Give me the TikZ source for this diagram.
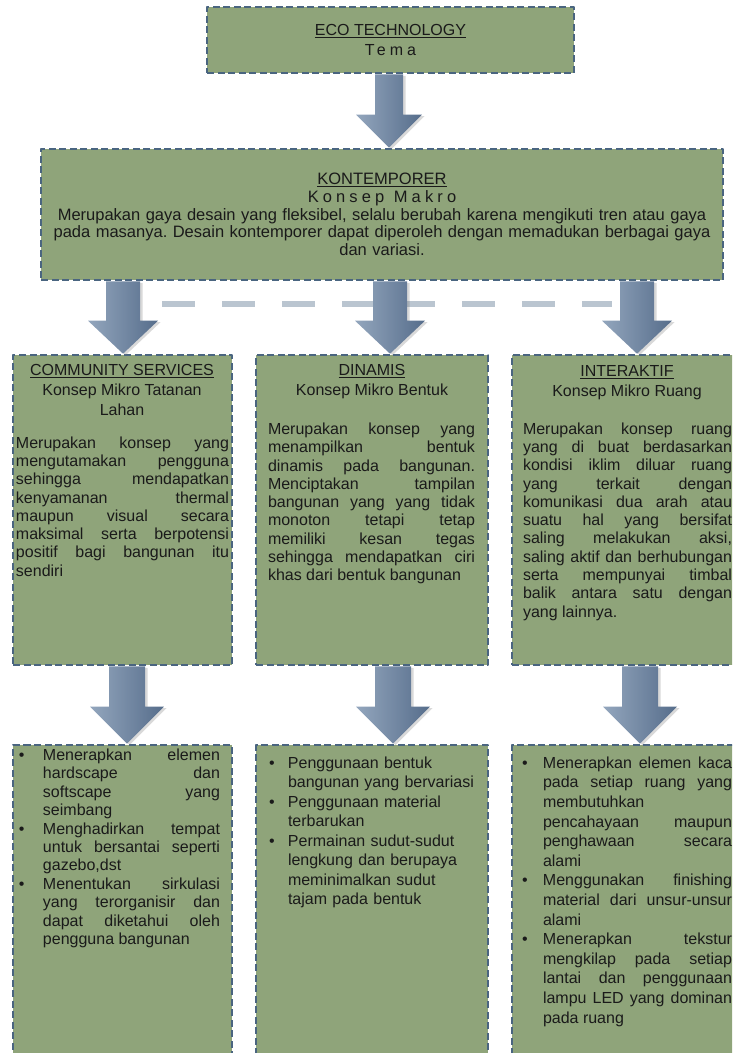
\documentclass[tikz,border=0pt]{standalone}
\usepackage{fontspec}
\setmainfont{Liberation Sans}
\newfontfamily\spacedfont[LetterSpace=25]{Liberation Sans}
\usetikzlibrary{calc,shadows}
\definecolor{boxgreen}{HTML}{8FA47A}
\definecolor{boxedge}{HTML}{4A6580}
\definecolor{arrowlight}{HTML}{93A6BD}
\definecolor{arrowmid}{HTML}{6F87A4}
\definecolor{arrowdark}{HTML}{566D8B}
\definecolor{dashgray}{HTML}{BAC5D0}
\definecolor{inktext}{HTML}{1A1A1A}
\hbadness=10000
\hyphenpenalty=10000
\exhyphenpenalty=10000
\frenchspacing
\tikzset{
	konsep/.style={draw=boxedge,fill=boxgreen,line width=2.6pt,dash pattern=on 7pt off 3.5pt,inner sep=0pt},
	arrowshade/.style={left color=arrowlight,middle color=arrowmid,right color=arrowdark,
		drop shadow={shadow xshift=2.5pt,shadow yshift=-1.5pt,opacity=.3}},
	judul/.style={text=inktext,align=center,font=\fontsize{16}{20}\selectfont,inner sep=0pt},
	isi/.style={text=inktext,align=justify,font=\fontsize{16}{18.3}\selectfont,inner sep=0pt},
	butir/.style={text=inktext,align=left,font=\fontsize{16}{19.5}\selectfont,inner sep=0pt}
}
% x, from, to, shaft half width, head half width, head height
\newcommand{\blockarrow}[6]{%
	\path[arrowshade] let \p1=(#2.south), \p2=(#3.north) in
	({(#1-#4)*1pt},\y1) -- ({(#1+#4)*1pt},\y1) -- ({(#1+#4)*1pt},\y2+#6pt) -- ({(#1+#5)*1pt},\y2+#6pt)
	-- ({#1*1pt},\y2) -- ({(#1-#5)*1pt},\y2+#6pt) -- ({(#1-#4)*1pt},\y2+#6pt) -- cycle;}
\newcommand{\poin}[2][21pt]{\par\noindent\hangindent=#1\hangafter=1\makebox[#1][l]{\textbullet}#2\par}
\begin{document}
\begin{tikzpicture}[x=1pt,y=-1pt,line join=round]
	\clip (0,0) rectangle (732,1053);
	% tema dan konsep makro
	\node[konsep,judul,minimum width=367pt,minimum height=66pt] (tema) at (390.5,40)
		{\underline{ECO TECHNOLOGY}\\{\spacedfont Tema}};
	\node[konsep,judul,minimum width=682pt,minimum height=131pt,text width=670pt,
		font=\fontsize{16.5}{17.8}\selectfont] (makro) at (382,214.5)
		{\underline{KONTEMPORER}\\{\spacedfont Konsep\hspace{4pt} Makro}\\
		Merupakan gaya desain yang fleksibel, selalu berubah karena mengikuti tren atau gaya\\
		pada masanya. Desain kontemporer dapat diperoleh dengan memadukan berbagai gaya\\
		dan variasi.};
	% konsep mikro
	\node[konsep,minimum width=219pt,minimum height=310pt] (community) at (122.5,510) {};
	\node[konsep,minimum width=232pt,minimum height=310pt] (dinamis) at (372,510) {};
	\node[konsep,minimum width=232pt,minimum height=310pt] (interaktif) at (628,510) {};
	\node[konsep,minimum width=219pt,minimum height=325pt] (communitybawah) at (122.5,907.5) {};
	\node[konsep,minimum width=232pt,minimum height=325pt] (dinamisbawah) at (372,907.5) {};
	\node[konsep,minimum width=232pt,minimum height=325pt] (interaktifbawah) at (628,907.5) {};
	\node[judul] (communityjudul) at (122,390) {\underline{COMMUNITY SERVICES}\\Konsep Mikro Tatanan\\Lahan};
	\node[judul] (dinamisjudul) at (372,382) {\underline{DINAMIS}\\Konsep Mikro Bentuk};
	\node[judul] (interaktifjudul) at (627,382.5) {\underline{INTERAKTIF}\\Konsep Mikro Ruang};
	\node[isi,text width=213pt] (communityisi) at (122.5,506.5) {Merupakan konsep yang\linebreak
		mengutamakan pengguna\linebreak sehingga mendapatkan\linebreak kenyamanan thermal\linebreak
		maupun visual secara\linebreak maksimal serta berpotensi\linebreak positif bagi bangunan itu\linebreak sendiri};
	\node[isi,text width=207pt] (dinamisisi) at (371.5,503.5) {Merupakan konsep yang\linebreak
		menampilkan bentuk\linebreak dinamis pada bangunan.\linebreak Menciptakan tampilan\linebreak
		bangunan yang yang tidak\linebreak monoton tetapi tetap\linebreak memiliki kesan tegas\linebreak
		sehingga mendapatkan ciri\linebreak khas dari bentuk bangunan};
	\node[isi,text width=209pt] (interaktifisi) at (627.5,521.5) {Merupakan konsep ruang\linebreak
		yang di buat berdasarkan\linebreak kondisi iklim diluar ruang\linebreak yang terkait dengan\linebreak
		komunikasi dua arah atau\linebreak suatu hal yang bersifat\linebreak saling melakukan aksi,\linebreak
		saling aktif dan berhubungan\linebreak serta mempunyai timbal\linebreak balik antara satu dengan\linebreak
		yang lainnya.};
	% penerapan
	\node[isi,text width=201pt,font=\fontsize{16}{18.4}\selectfont] (communitybutir) at (119.5,845) {%
		\poin[24pt]{Menerapkan elemen\linebreak hardscape dan\linebreak softscape yang\linebreak seimbang}%
		\poin[24pt]{Menghadirkan tempat\linebreak untuk bersantai seperti\linebreak gazebo,dst}%
		\poin[24pt]{Menentukan sirkulasi\linebreak yang terorganisir dan\linebreak dapat diketahui oleh\linebreak pengguna bangunan}};
	\node[butir,text width=207pt] (dinamisbutir) at (372.5,828.5) {%
		\poin[19pt]{Penggunaan bentuk\linebreak bangunan yang bervariasi}%
		\poin[19pt]{Penggunaan material\linebreak terbarukan}%
		\poin[19pt]{Permainan sudut-sudut\linebreak lengkung dan berupaya\linebreak meminimalkan sudut\linebreak tajam pada bentuk}};
	\node[isi,text width=210pt,font=\fontsize{16}{19.6}\selectfont] (interaktifbutir) at (627,887.5) {%
		\poin{Menerapkan elemen kaca\linebreak pada setiap ruang yang\linebreak membutuhkan\linebreak
			pencahayaan maupun\linebreak penghawaan secara\linebreak alami}%
		\poin{Menggunakan finishing\linebreak material dari unsur-unsur\linebreak alami}%
		\poin{Menerapkan tekstur\linebreak mengkilap pada setiap\linebreak lantai dan penggunaan\linebreak
			lampu LED yang dominan\linebreak pada ruang}};
	% garis putus antar konsep mikro
	\coordinate (dashL) at (162,304);
	\coordinate (dashR) at (612,304);
	\draw[dashgray,line width=6pt,dash pattern=on 33pt off 27pt] (dashL) -- (dashR);
	% panah
	\blockarrow{389}{tema}{makro}{14}{33}{33}
	\blockarrow{123}{makro}{community}{17}{35}{33}
	\blockarrow{390}{makro}{dinamis}{17}{35}{33}
	\blockarrow{637}{makro}{interaktif}{17}{35}{33}
	\blockarrow{127}{community}{communitybawah}{18}{37}{37}
	\blockarrow{393}{dinamis}{dinamisbawah}{18}{37}{37}
	\blockarrow{640}{interaktif}{interaktifbawah}{18}{37}{37}
\end{tikzpicture}
\end{document}
